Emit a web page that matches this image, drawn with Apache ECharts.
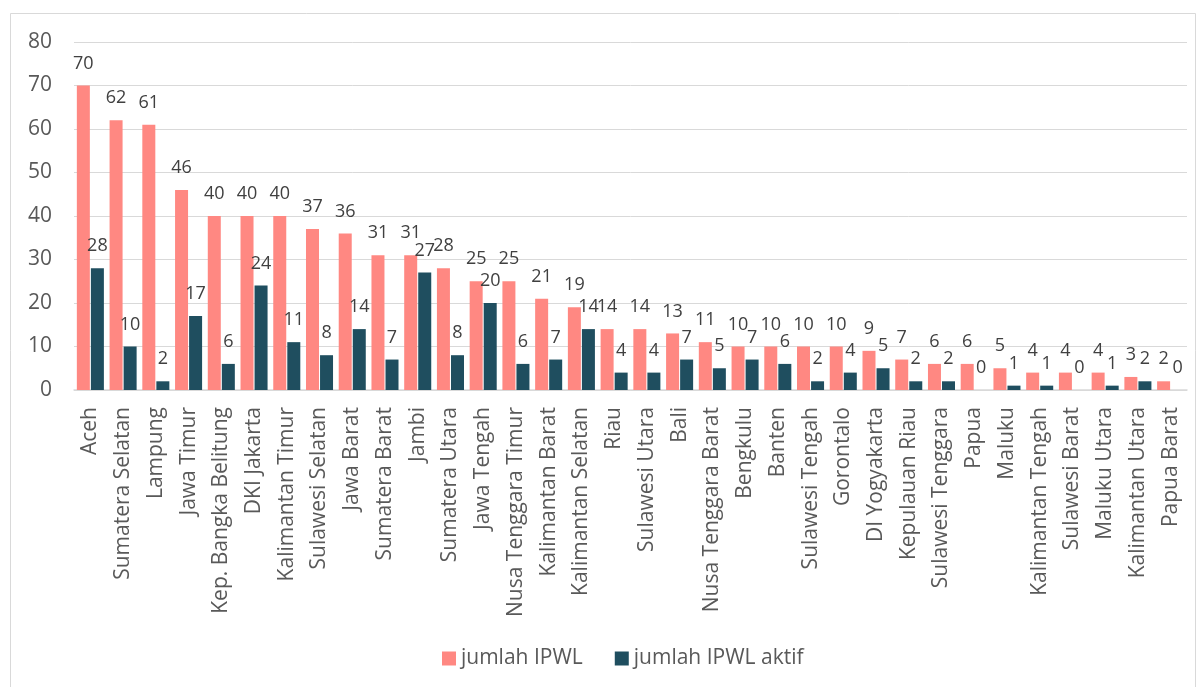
<!DOCTYPE html>
<html><head><meta charset="utf-8">
<script src="https://cdn.jsdelivr.net/npm/echarts@6/dist/echarts.min.js"></script>
<style>html,body{margin:0;padding:0;background:#fff}#c{width:1204px;height:687px}</style>
</head><body><div id="c"></div>
<script>
const categories = ["Aceh","Sumatera Selatan","Lampung","Jawa Timur","Kep. Bangka Belitung","DKI Jakarta","Kalimantan Timur","Sulawesi Selatan","Jawa Barat","Sumatera Barat","Jambi","Sumatera Utara","Jawa Tengah","Nusa Tenggara Timur","Kalimantan Barat","Kalimantan Selatan","Riau","Sulawesi Utara","Bali","Nusa Tenggara Barat","Bengkulu","Banten","Sulawesi Tengah","Gorontalo","DI Yogyakarta","Kepulauan Riau","Sulawesi Tenggara","Papua","Maluku","Kalimantan Tengah","Sulawesi Barat","Maluku Utara","Kalimantan Utara","Papua Barat"];
const jumlahIPWL = [70,62,61,46,40,40,40,37,36,31,31,28,25,25,21,19,14,14,13,11,10,10,10,10,9,7,6,6,5,4,4,4,3,2];
const jumlahIPWLAktif = [28,10,2,17,6,24,11,8,14,7,27,8,20,6,7,14,4,4,7,5,7,6,2,4,5,2,2,0,1,1,0,1,2,0];
const yTicks = [0,10,20,30,40,50,60,70,80];

const FONT = "'Open Sans', 'Noto Sans', sans-serif";
const chart = echarts.init(document.getElementById('c'), null, {renderer:'canvas'});
const lbl = {show:true, position:'top', distance:13, color:'#404040', fontSize:18, fontFamily:FONT};
chart.setOption({
  animation:false,
  backgroundColor:'#fff',
  graphic:[{type:'rect', shape:{x:10.5,y:13.5,width:1185,height:690}, style:{fill:'none', stroke:'#d9d9d9', lineWidth:1}}],
  grid:{left:74, right:17, top:42, bottom:297},
  legend:{bottom:13, left:437, itemWidth:14, itemHeight:14, itemGap:32, icon:'rect',
    textStyle:{color:'#595959', fontSize:21, fontFamily:FONT}},
  xAxis:{type:'category', data:categories,
    axisLine:{lineStyle:{color:'#d9d9d9', width:1.5}}, axisTick:{show:false},
    axisLabel:{rotate:90, interval:0, margin:17, color:'#595959', fontSize:21, fontFamily:FONT}},
  yAxis:{type:'value', min:yTicks[0], max:yTicks[yTicks.length-1], interval:10,
    axisLine:{show:false}, axisTick:{show:false},
    splitLine:{lineStyle:{color:'#d9d9d9', width:1}},
    axisLabel:{margin:22, color:'#595959', fontSize:21, fontFamily:FONT}},
  series:[
    {name:'jumlah IPWL', type:'bar', data:jumlahIPWL, barWidth:13, barGap:'8%', barCategoryGap:'20%',
      itemStyle:{color:'#FF8882'}, label:lbl},
    {name:'jumlah IPWL aktif', type:'bar', data:jumlahIPWLAktif, barWidth:13,
      itemStyle:{color:'#1F4E5F'}, label:lbl}
  ]
});
</script></body></html>
